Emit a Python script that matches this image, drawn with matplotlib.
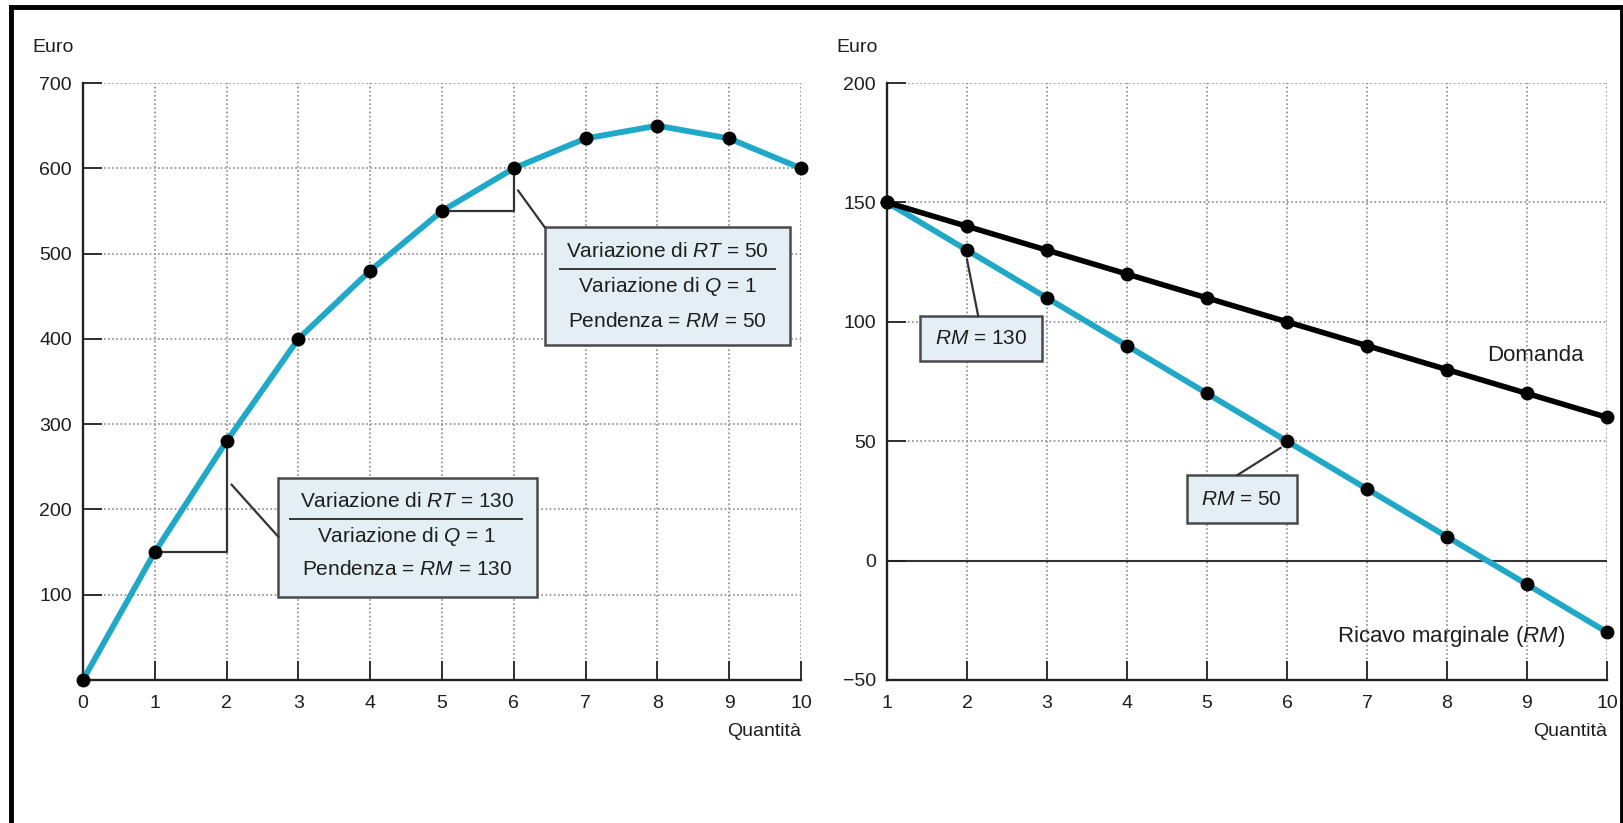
import matplotlib
matplotlib.use('Agg')
import matplotlib.pyplot as plt
from matplotlib import font_manager
from matplotlib.patches import Rectangle
from matplotlib.lines import Line2D

# data
q_left = [0, 1, 2, 3, 4, 5, 6, 7, 8, 9, 10]
ricavo_totale = [0, 150, 280, 400, 480, 550, 600, 635, 650, 635, 600]
q_right = [1, 2, 3, 4, 5, 6, 7, 8, 9, 10]
domanda = [150, 140, 130, 120, 110, 100, 90, 80, 70, 60]
ricavo_marginale = [150, 130, 110, 90, 70, 50, 30, 10, -10, -30]
left_yticks = [100, 200, 300, 400, 500, 600, 700]
right_yticks = [-50, 0, 50, 100, 150, 200]

names = {f.name for f in font_manager.fontManager.ttflist}
if 'Liberation Sans Narrow' in names:
	fam = 'Liberation Sans Narrow'
	fs = 16
	fb = 17
else:
	fam = 'Liberation Sans'
	fs = 14
	fb = 15
plt.rcParams['font.family'] = [fam, 'DejaVu Sans']
plt.rcParams['mathtext.fontset'] = 'custom'
plt.rcParams['mathtext.it'] = fam + ':italic'
plt.rcParams['mathtext.rm'] = fam

txt = '#1e1e1e'
cyan = '#1fa8c8'
grid_c = '#8a8a8a'
box_fc = '#e3eff4'
box_ec = '#4a4a4a'

fig = plt.figure(figsize=(16.24, 8.23), dpi=100)
ax1 = fig.add_axes([0.0511, 0.1738, 0.4421, 0.7253])
ax2 = fig.add_axes([0.5462, 0.1738, 0.4433, 0.7253])

def style(ax, xticks, yticks, xlim, ylim):
	ax.set_xlim(xlim)
	ax.set_ylim(ylim)
	for s in ['top', 'right']:
		ax.spines[s].set_visible(False)
	for s in ['left', 'bottom']:
		ax.spines[s].set_linewidth(1.7)
		ax.spines[s].set_color('#222222')
	ax.set_xticks(xticks)
	ax.set_yticks(yticks)
	ax.tick_params(direction='in', length=14, width=1.3, colors='#222222',
		labelsize=fs, labelcolor=txt)
	ax.tick_params(axis='x', pad=11)
	ax.tick_params(axis='y', pad=8)
	for x in xticks:
		ax.axvline(x, color=grid_c, lw=1.2, ls=(0, (1, 1.5)), zorder=0)
	for y in yticks:
		ax.axhline(y, color=grid_c, lw=1.2, ls=(0, (1, 1.5)), zorder=0)
	ax.text(1.0, -0.087, 'Quantità', transform=ax.transAxes, ha='right', va='center',
		fontsize=fs, color=txt)
	ax.text(-0.07, 1.06, 'Euro', transform=ax.transAxes, ha='left', va='center',
		fontsize=fs, color=txt)

style(ax1, q_left, left_yticks, (0, 10), (0, 700))
ax1.set_xticklabels([str(q) for q in q_left])
style(ax2, q_right, right_yticks, (1, 10), (-50, 200))
ax2.set_yticklabels(['\u221250' if v < 0 else str(v) for v in right_yticks])
ax2.axhline(0, color='#333333', lw=1.5, zorder=1)

# left panel: total revenue
ax1.plot(q_left, ricavo_totale, color=cyan, lw=4.2, zorder=3, solid_capstyle='round')
ax1.plot(q_left, ricavo_totale, 'o', color='black', ms=9, zorder=4, clip_on=False)

# slope triangles
for qa in [1, 5]:
	ia = q_left.index(qa)
	ax1.plot([q_left[ia], q_left[ia + 1], q_left[ia + 1]],
		[ricavo_totale[ia], ricavo_totale[ia], ricavo_totale[ia + 1]],
		color='#333333', lw=1.6, zorder=2)

def fraction_box(ax, x0, x1, y0, y1, xc, ys, fl, lines):
	ax.add_patch(Rectangle((x0, y0), x1 - x0, y1 - y0, facecolor=box_fc,
		edgecolor=box_ec, lw=1.8, zorder=5))
	for y, s in zip(ys, lines):
		ax.text(xc, y, s, ha='center', va='center', fontsize=fb, color=txt, zorder=6)
	ax.plot(fl[0], fl[1], color='#333333', lw=1.4, zorder=6)

fraction_box(ax1, 2.72, 6.32, 97, 237, 4.51, [209, 168, 130],
	([2.88, 6.11], [189, 189]),
	[r'Variazione di $RT$ = 130', r'Variazione di $Q$ = 1', r'Pendenza = $RM$ = 130'])
ax1.plot([2.07, 2.72], [229, 168], color='#333333', lw=1.6, zorder=5)

fraction_box(ax1, 6.43, 9.85, 393, 531, 8.14, [503, 461, 420],
	([6.64, 9.64], [482, 482]),
	[r'Variazione di $RT$ = 50', r'Variazione di $Q$ = 1', r'Pendenza = $RM$ = 50'])
ax1.plot([6.06, 6.43], [574, 531], color='#333333', lw=1.6, zorder=5)

# right panel: demand and marginal revenue
ax2.plot(q_right, ricavo_marginale, color=cyan, lw=4.2, zorder=3)
ax2.plot(q_right, ricavo_marginale, 'o', color='black', ms=9, zorder=4, clip_on=False)
ax2.plot(q_right, domanda, color='black', lw=4.0, zorder=3)
ax2.plot(q_right, domanda, 'o', color='black', ms=9, zorder=4, clip_on=False)

ax2.add_patch(Rectangle((1.41, 83.6), 1.53, 18.8, facecolor=box_fc, edgecolor=box_ec,
	lw=1.8, zorder=5))
ax2.text(2.175, 93, r'$RM$ = 130', ha='center', va='center', fontsize=fb, color=txt, zorder=6)
ax2.plot([2.0, 2.14], [126, 102.4], color='#333333', lw=1.6, zorder=5)

ax2.add_patch(Rectangle((4.75, 15.7), 1.37, 20.1, facecolor=box_fc, edgecolor=box_ec,
	lw=1.8, zorder=5))
ax2.text(5.435, 25.7, r'$RM$ = 50', ha='center', va='center', fontsize=fb, color=txt, zorder=6)
ax2.plot([5.38, 5.92], [35.8, 47.2], color='#333333', lw=1.6, zorder=5)

ax2.text(9.1, 86, 'Domanda', ha='center', va='center', fontsize=fb + 1, color=txt)
ax2.text(9.48, -32, r'Ricavo marginale ($RM$)', ha='right', va='center',
	fontsize=fb + 1, color=txt)

# outer frame
fig.add_artist(Line2D([0.0068, 0.0068], [-0.01, 0.9915], color='black', lw=3.5))
fig.add_artist(Line2D([0.9985, 0.9985], [-0.01, 0.9915], color='black', lw=3.5))
fig.add_artist(Line2D([0.0068, 0.9985], [0.9915, 0.9915], color='black', lw=3.5))

fig.savefig('out.png', dpi=100)
plt.close(fig)
